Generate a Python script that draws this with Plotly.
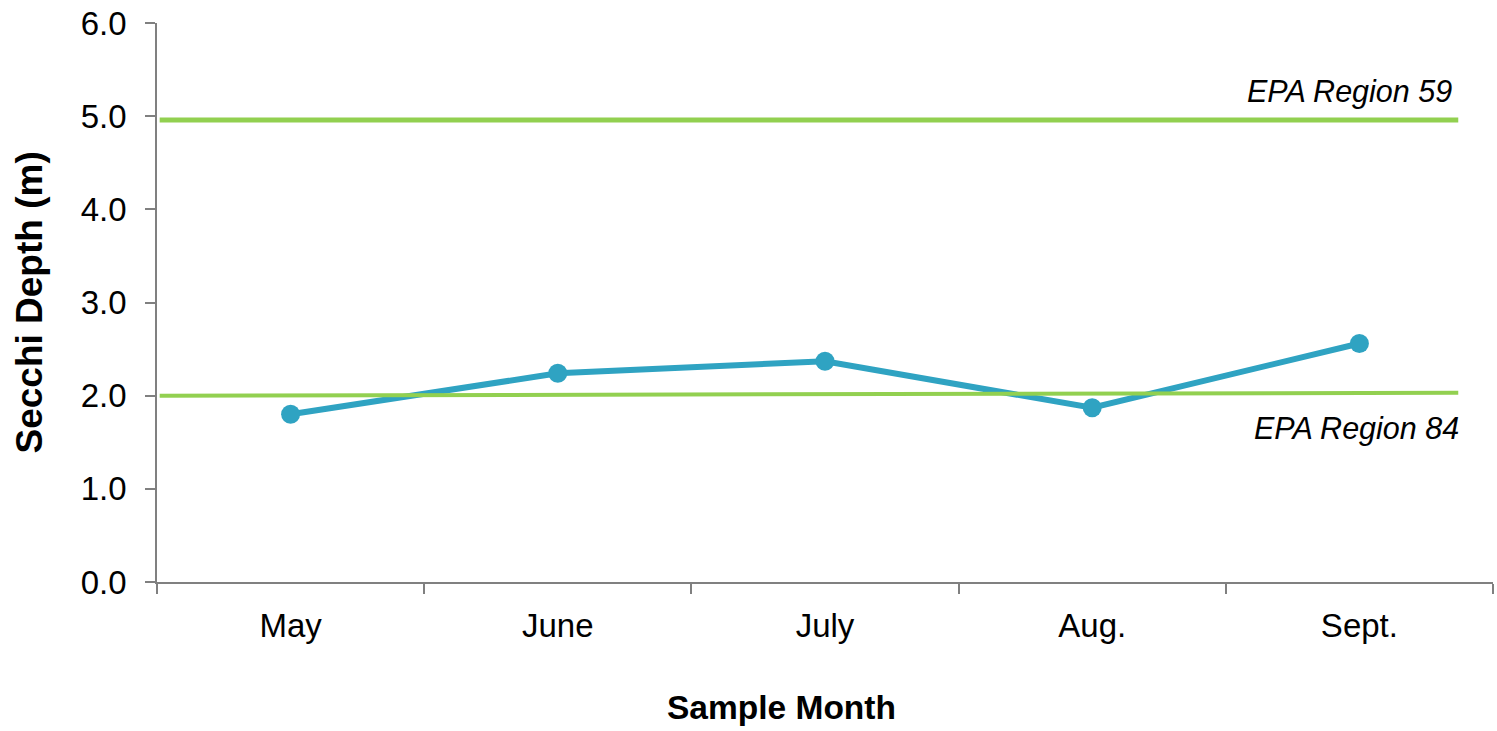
import plotly.graph_objects as go

# Monthly Secchi depth readings
months = ["May", "June", "July", "Aug.", "Sept."]
secchi_depth = [1.80, 2.24, 2.37, 1.87, 2.56]

# EPA reference levels (start and end of each guideline line)
ref_x = [-0.49, 4.37]
epa_region_59 = [4.96, 4.96]
epa_region_84 = [2.00, 2.03]

y_ticks = [0, 1, 2, 3, 4, 5, 6]
y_tick_text = [f"{v:.1f}" for v in y_ticks]

BLUE = "#2FA3C2"
GREEN = "#92D050"
AXIS = "#808080"
FONT = "Liberation Sans, Arial, sans-serif"

x_pos = list(range(len(months)))
boundaries = [i - 0.5 for i in range(len(months) + 1)]

fig = go.Figure()

fig.add_trace(go.Scatter(
    x=x_pos, y=secchi_depth, mode="lines+markers",
    line=dict(color=BLUE, width=6),
    marker=dict(color=BLUE, size=19),
    showlegend=False, hoverinfo="skip",
))
fig.add_trace(go.Scatter(
    x=ref_x, y=epa_region_59, mode="lines",
    line=dict(color=GREEN, width=5),
    showlegend=False, hoverinfo="skip",
))
fig.add_trace(go.Scatter(
    x=ref_x, y=epa_region_84, mode="lines",
    line=dict(color=GREEN, width=4),
    showlegend=False, hoverinfo="skip",
))

fig.add_annotation(
    text="<i>EPA Region 59</i>", x=0.9708, xref="paper", xanchor="right",
    y=5.27, yref="y", yanchor="middle", showarrow=False,
    font=dict(family=FONT, size=30.5, color="black"),
)
fig.add_annotation(
    text="<i>EPA Region 84</i>", x=0.976, xref="paper", xanchor="right",
    y=1.65, yref="y", yanchor="middle", showarrow=False,
    font=dict(family=FONT, size=30.5, color="black"),
)

# Axis titles
fig.add_annotation(
    text="<b>Sample Month</b>", x=0.4678, xref="paper", xanchor="center",
    y=-0.2254, yref="paper", yanchor="middle", showarrow=False,
    font=dict(family=FONT, size=33.5, color="black"),
)
fig.add_annotation(
    text="<b>Secchi Depth (m)</b>", textangle=-90,
    x=-0.0958, xref="paper", xanchor="center",
    y=0.5, yref="paper", yanchor="middle", showarrow=False,
    font=dict(family=FONT, size=37, color="black"),
)

fig.update_xaxes(
    range=[-0.5, 4.5],
    tickvals=x_pos, ticktext=months,
    ticks="", ticklabelstandoff=14,
    minor=dict(tickvals=boundaries, ticks="outside", ticklen=10,
               tickcolor=AXIS, tickwidth=1.5),
    showline=True, linecolor=AXIS, linewidth=1.5,
    showgrid=False, zeroline=False,
    tickfont=dict(family=FONT, size=33, color="black"),
)
fig.update_yaxes(
    range=[0, 6],
    tickvals=y_ticks, ticktext=y_tick_text,
    ticks="outside", ticklen=10, tickcolor=AXIS, tickwidth=1.5,
    ticklabelstandoff=12,
    showline=True, linecolor=AXIS, linewidth=1.5,
    showgrid=False, zeroline=False,
    tickfont=dict(family=FONT, size=33, color="black"),
)

fig.update_layout(
    width=1497, height=731,
    margin=dict(l=157, r=4, t=23, b=149),
    paper_bgcolor="white", plot_bgcolor="white",
)

fig.write_html("out.html")
